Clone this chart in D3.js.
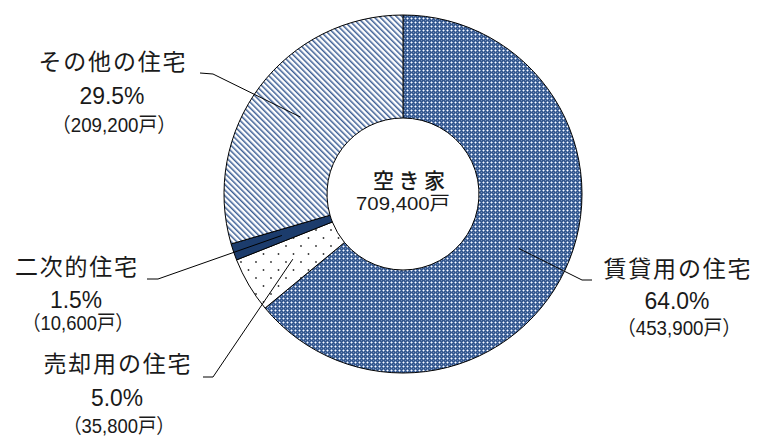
<!DOCTYPE html>
<html>
<head>
<meta charset="utf-8">
<script src="https://cdn.jsdelivr.net/npm/d3@7"></script>
<style>
  body { margin: 0; background: #fff; }
  text { font-family: "Noto Sans CJK JP", sans-serif; fill: #1a1a1a; }
  .num { font-family: "Liberation Sans Narrow", "Liberation Sans", "Noto Sans CJK JP", sans-serif; }
</style>
</head>
<body>
<div id="chart"></div>
<script>
// data
var categories = ["賃貸用の住宅", "売却用の住宅", "二次的住宅", "その他の住宅"];
var percents = [64.0, 5.0, 1.5, 29.5];
var counts = ["453,900", "35,800", "10,600", "209,200"];
var totalLabel = "空き家";
var totalCount = "709,400";

// layout
var svgWidth = 757, svgHeight = 437;
var cx = 403, cy = 194;
var outerR = 179, innerR = 76, leaderR = 128;

// label placement: elbow, line end, text centre x, line y's
var labelLayout = [
  { elbow: [582, 280], end: [592, 280], tx: 677, ys: [267, 300, 328] },
  { elbow: [213, 377], end: [203, 377], tx: 117, ys: [362, 397, 426] },
  { elbow: [158, 279], end: [147, 279], tx: 76,  ys: [265, 299, 323] },
  { elbow: [213, 74],  end: [200, 73],  tx: 112, ys: [60, 95, 125] }
];

var svg = d3.select("#chart")
  .append("svg")
  .attr("width", svgWidth)
  .attr("height", svgHeight);

// patterns
var defs = svg.append("defs");

var p0 = defs.append("pattern").attr("id", "pat0")
  .attr("patternUnits", "userSpaceOnUse").attr("width", 4).attr("height", 4);
p0.append("rect").attr("width", 4).attr("height", 4).attr("fill", "#36598f");
p0.append("rect").attr("x", 0).attr("y", 0).attr("width", 1).attr("height", 1).attr("fill", "#ffffff");
[[1, 0], [0, 1], [3, 0], [0, 3]].forEach(function(p) {
  p0.append("rect").attr("x", p[0]).attr("y", p[1]).attr("width", 1).attr("height", 1).attr("fill", "#93aad0");
});
p0.append("rect").attr("x", 2).attr("y", 2).attr("width", 1).attr("height", 1).attr("fill", "#6f8cbc");

var p1 = defs.append("pattern").attr("id", "pat1")
  .attr("patternUnits", "userSpaceOnUse").attr("width", 15).attr("height", 16);
p1.append("rect").attr("width", 15).attr("height", 16).attr("fill", "#ffffff");
p1.append("circle").attr("cx", 3).attr("cy", 4).attr("r", 0.9).attr("fill", "#333");
p1.append("circle").attr("cx", 10.5).attr("cy", 12).attr("r", 0.9).attr("fill", "#333");

var p3 = defs.append("pattern").attr("id", "pat3")
  .attr("patternUnits", "userSpaceOnUse").attr("width", 4).attr("height", 10)
  .attr("patternTransform", "rotate(-45)");
p3.append("rect").attr("width", 4).attr("height", 10).attr("fill", "#ffffff");
p3.append("rect").attr("width", 1.5).attr("height", 10).attr("fill", "#3d5f95");

var fills = ["url(#pat0)", "url(#pat1)", "#1c3c6c", "url(#pat3)"];

var g = svg.append("g").attr("transform", `translate(${cx}, ${cy})`);

var pie = d3.pie().sort(null).value(d => d);
var arcs = pie(percents);

var arc = d3.arc().innerRadius(innerR).outerRadius(outerR);
var midArc = d3.arc().innerRadius(leaderR).outerRadius(leaderR);

g.selectAll("path.slice")
  .data(arcs)
  .enter()
  .append("path")
  .attr("class", "slice")
  .attr("d", arc)
  .attr("fill", (d, i) => fills[i])
  .attr("stroke", "#000")
  .attr("stroke-width", 1);

// leader lines
svg.selectAll("polyline.leader")
  .data(arcs)
  .enter()
  .append("polyline")
  .attr("class", "leader")
  .attr("points", function(d, i) {
    var c = midArc.centroid(d);
    var L = labelLayout[i];
    return [[cx + c[0], cy + c[1]], L.elbow, L.end].map(p => p.join(",")).join(" ");
  })
  .attr("fill", "none")
  .attr("stroke", "#000")
  .attr("stroke-width", 1);

// labels
categories.forEach(function(name, i) {
  var L = labelLayout[i];
  var pct = percents[i].toFixed(1) + "%";
  var cnt = "（" + counts[i] + "戸）";
  svg.append("text")
    .attr("x", L.tx).attr("y", L.ys[0])
    .attr("text-anchor", "middle").attr("dominant-baseline", "central")
    .attr("font-size", 23)
    .attr("textLength", name.length * 25.2 - 4)
    .attr("lengthAdjust", "spacing")
    .text(name);
  svg.append("text")
    .attr("class", "num")
    .attr("x", L.tx).attr("y", L.ys[1])
    .attr("text-anchor", "middle").attr("dominant-baseline", "central")
    .attr("font-size", 24)
    .attr("textLength", pct.length * 13)
    .attr("lengthAdjust", "spacingAndGlyphs")
    .text(pct);
  svg.append("text")
    .attr("class", "num")
    .attr("x", L.tx + 2).attr("y", L.ys[2])
    .attr("text-anchor", "middle").attr("dominant-baseline", "central")
    .attr("font-size", 20)
    .attr("textLength", cnt.length * 12.4)
    .attr("lengthAdjust", "spacingAndGlyphs")
    .text(cnt);
});

// centre text
svg.append("text")
  .attr("x", cx + 6).attr("y", 179)
  .attr("text-anchor", "middle").attr("dominant-baseline", "central")
  .attr("font-size", 21).attr("font-weight", "500")
  .attr("textLength", 72).attr("lengthAdjust", "spacing")
  .text(totalLabel);
svg.append("text")
  .attr("class", "num")
  .attr("x", cx).attr("y", 203)
  .attr("text-anchor", "middle").attr("dominant-baseline", "central")
  .attr("font-size", 19)
  .attr("textLength", 94).attr("lengthAdjust", "spacingAndGlyphs")
  .text(totalCount + "戸");
</script>
</body>
</html>
